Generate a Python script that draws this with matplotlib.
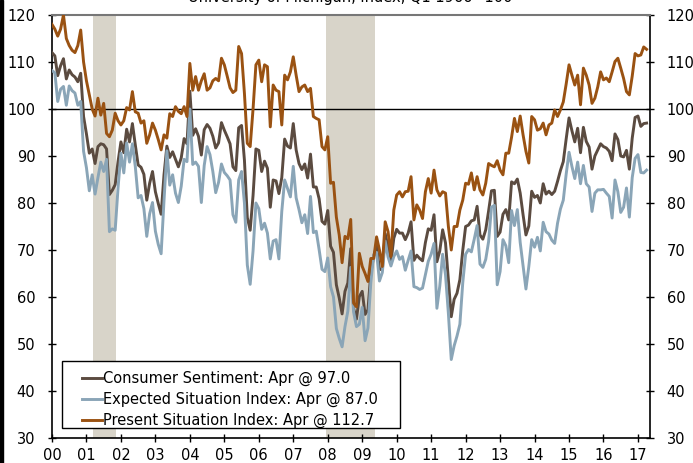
import numpy as np
import matplotlib
matplotlib.use("Agg")
from matplotlib import pyplot as plt
from matplotlib.patches import Rectangle

# University of Michigan consumer sentiment, monthly Jan 2000 - Apr 2017
sentiment = [
    112.0, 111.3, 107.1, 109.2, 110.7, 106.4, 108.3, 107.3, 106.8, 105.8, 107.6, 98.4,
    94.7, 90.6, 91.5, 88.4, 92.0, 92.6, 92.4, 91.5, 81.8, 82.7, 83.9, 88.8,
    93.0, 90.7, 95.7, 93.0, 96.9, 92.4, 88.1, 87.6, 86.1, 80.6, 84.2, 86.7,
    82.4, 79.9, 77.6, 86.0, 92.1, 89.7, 90.9, 89.3, 87.7, 89.6, 93.7, 92.6,
    103.8, 94.4, 95.8, 94.2, 90.2, 95.6, 96.7, 95.9, 94.2, 91.7, 92.8, 97.1,
    95.5, 94.1, 92.6, 87.7, 86.9, 96.0, 96.5, 89.1, 76.9, 74.2, 81.6, 91.5,
    91.2, 86.7, 88.9, 87.4, 79.1, 84.9, 84.7, 82.0, 85.4, 93.6, 92.1, 91.7,
    96.9, 91.3, 88.4, 87.1, 88.3, 85.3, 90.4, 83.4, 83.4, 80.9, 76.1, 75.5,
    78.4, 70.8, 69.5, 62.6, 59.8, 56.4, 61.2, 63.0, 70.3, 57.6, 55.3, 60.1,
    61.2, 56.3, 57.3, 65.1, 68.7, 70.8, 66.0, 65.7, 73.5, 70.6, 67.4, 72.5,
    74.4, 73.6, 73.6, 72.2, 73.6, 76.0, 67.8, 68.9, 68.2, 67.7, 71.6, 74.5,
    74.2, 77.5, 67.5, 69.8, 74.3, 71.5, 63.7, 55.8, 59.5, 60.8, 63.7, 69.9,
    75.0, 75.3, 76.2, 76.4, 79.3, 73.2, 72.3, 74.3, 78.3, 82.6, 82.7, 72.9,
    73.8, 77.6, 78.6, 76.4, 84.5, 84.1, 85.1, 82.1, 77.5, 73.2, 75.1, 82.5,
    81.2, 81.6, 80.0, 84.1, 81.9, 82.5, 81.8, 82.5, 84.6, 86.9, 88.8, 93.6,
    98.1, 95.4, 93.0, 95.9, 90.7, 96.1, 93.1, 91.9, 87.2, 90.0, 91.3, 92.6,
    92.0, 91.7, 91.0, 89.0, 94.7, 93.5, 90.0, 89.8, 91.2, 87.2, 93.8, 98.2,
    98.5, 96.3, 96.9, 97.0,
]

expected = [
    108.2, 107.7, 101.6, 104.2, 104.8, 100.8, 104.9, 103.9, 103.4, 100.8, 101.6, 91.0,
    87.5, 82.6, 86.0, 81.9, 85.4, 88.7, 86.7, 89.3, 73.9, 74.5, 74.2, 83.2,
    90.6, 86.4, 92.8, 88.7, 92.6, 87.8, 81.1, 81.6, 78.8, 72.9, 77.7, 80.1,
    74.0, 71.2, 69.2, 80.5, 91.1, 83.8, 86.0, 82.1, 80.1, 83.6, 89.3, 88.8,
    100.0, 88.2, 88.7, 87.8, 80.1, 88.0, 92.0, 90.3, 86.7, 82.2, 84.4, 88.3,
    86.5, 85.8, 84.9, 77.5, 75.9, 84.9, 86.7, 80.0, 66.8, 62.7, 69.8, 80.0,
    78.8, 74.4, 75.7, 73.6, 68.1, 71.9, 72.2, 68.1, 78.2, 84.9, 83.1, 81.3,
    87.8, 81.1, 78.6, 75.8, 77.5, 73.5, 81.4, 73.7, 74.0, 70.1, 65.9, 65.4,
    68.3, 62.2, 60.0, 53.3, 51.2, 49.4, 53.7, 57.0, 66.3, 56.8, 53.7, 54.2,
    57.8, 50.7, 53.4, 63.1, 69.0, 69.5, 63.4, 65.2, 71.9, 68.5, 66.6, 68.6,
    69.8, 68.0, 68.6, 65.7, 67.8, 69.8, 62.2, 62.0, 61.6, 61.9, 64.7, 67.6,
    69.1, 71.4, 57.6, 62.3, 69.1, 64.7, 56.5, 46.7, 49.6, 51.7, 54.2, 63.0,
    69.1, 70.1, 69.6, 72.3, 75.2, 67.0, 66.3, 68.0, 71.8, 79.1, 79.5, 62.6,
    65.4, 72.2, 70.9, 67.3, 78.4, 75.2, 78.6, 71.6, 66.6, 61.7, 66.5, 72.2,
    70.6, 72.7, 69.8, 75.9, 73.9, 73.4, 72.1, 71.4, 75.7, 78.7, 80.6, 86.1,
    90.8, 87.8, 85.2, 88.7, 84.1, 88.0, 84.1, 83.4, 78.2, 82.1, 82.8, 82.8,
    82.9, 82.1, 81.4, 76.8, 84.9, 82.4, 78.0, 79.1, 83.2, 77.0, 85.4, 89.5,
    90.3, 86.5, 86.4, 87.0,
]

present = [
    118.0, 117.0, 115.5, 117.0, 120.0, 115.0, 113.5, 112.5, 112.0, 113.5, 116.8, 110.0,
    106.0, 103.0, 100.0, 98.5, 102.3, 98.7, 101.2, 94.8, 94.1, 95.5, 99.1, 97.5,
    96.6, 97.5, 100.3, 99.8, 103.7, 99.4, 99.1, 97.0, 97.5, 92.7, 94.5, 97.0,
    95.5, 93.5, 91.3, 94.5, 93.8, 99.0, 98.4, 100.5, 99.5, 99.0, 100.5, 98.4,
    109.7, 104.0, 106.9, 104.0, 106.0, 107.5, 104.0, 104.5, 106.0, 106.5, 106.0, 110.8,
    109.4, 107.0, 104.5, 103.5, 104.0, 113.3, 111.8, 103.3, 92.7, 92.0, 100.0, 109.4,
    110.4, 105.8, 109.4, 109.0, 96.2, 105.1, 104.0, 103.7, 96.6, 107.2, 106.2, 107.9,
    111.1, 107.2, 103.7, 104.7, 105.1, 103.7, 104.4, 98.4, 98.0, 97.7, 92.0, 91.3,
    94.1, 84.2, 84.4, 77.0, 73.2, 67.3, 72.9, 72.4, 76.5, 58.7, 57.9, 69.3,
    66.5, 65.0, 63.3, 68.2, 68.2, 72.8, 70.0, 66.5, 76.0, 73.9, 68.6, 78.5,
    81.7, 82.4, 81.3, 82.4, 82.5, 85.6, 76.4, 79.6, 78.5, 76.7, 82.4, 85.2,
    82.1, 87.0, 82.8, 81.5, 82.4, 82.1, 75.0, 70.0, 75.0, 75.0, 78.5, 80.6,
    84.2, 84.0, 86.4, 82.8, 85.6, 82.8, 81.7, 84.2, 88.4, 88.0, 87.7, 89.0,
    87.0, 86.0, 90.6, 90.6, 94.0, 98.0, 95.2, 98.5, 94.5, 91.0, 88.5, 98.4,
    97.7, 95.5, 95.8, 97.0, 94.5, 96.6, 97.0, 99.8, 98.4, 99.8, 101.5, 105.3,
    109.4, 107.2, 105.1, 107.2, 100.9, 108.7, 107.2, 105.1, 101.2, 102.3, 104.7, 107.9,
    106.2, 106.6, 105.8, 107.9, 110.1, 110.8, 108.7, 106.5, 103.7, 103.0, 107.0, 111.8,
    111.3, 111.5, 113.2, 112.7,
]

labels = [
    "Consumer Sentiment: Apr @ 97.0",
    "Expected Situation Index: Apr @ 87.0",
    "Present Situation Index: Apr @ 112.7",
]
colors = ["#5b4b40", "#8aa5b7", "#9a5212"]

# recessions (decimal years)
rec_start = [2001.19, 2007.95]
rec_end = [2001.86, 2009.38]

years = list(range(2000, 2018))
year_labels = ["%02d" % (y % 100) for y in years]
yticks = [30, 40, 50, 60, 70, 80, 90, 100, 110, 120]

x = 2000 + np.arange(len(sentiment)) / 12.0

plt.rcParams['font.family'] = ['DejaVu Sans']

fig = plt.figure(figsize=(6.93, 4.63), dpi=100)
ax = fig.add_axes([0.075, 0.054, 0.863, 0.9136])

for s, e in zip(rec_start, rec_end):
    ax.axvspan(s, e, color="#d8d4c9", lw=0, zorder=0)

ax.axhline(100, color="black", lw=1.0, zorder=1)

for ser, lab, col in zip([sentiment, expected, present], labels, colors):
    ax.plot(x, ser, color=col, lw=2.1, label=lab, zorder=3)

ax.set_xlim(2000, 2017.35)
ax.set_ylim(30, 120)
ax.set_xticks(years)
ax.set_xticklabels(year_labels)
ax.set_yticks(yticks)
ax.tick_params(axis="both", direction="inout", length=6, width=1.0,
               labelsize=10.5, colors="black")
ax.tick_params(axis="x", pad=4.5)
ax.tick_params(axis="y", right=True, labelright=True, pad=9)

for side in ["left", "right", "bottom"]:
    ax.spines[side].set_color("black")
    ax.spines[side].set_linewidth(1.2)
ax.spines["top"].set_color("#777777")
ax.spines["top"].set_linewidth(1.5)

# legend box drawn separately so the entries can sit inset like the original
ax.add_patch(Rectangle((0.0167, 0.0236), 0.565, 0.158, transform=ax.transAxes,
                       facecolor="white", edgecolor="black", lw=1.0, zorder=5))
leg = ax.legend(loc="lower left", bbox_to_anchor=(0.050, 0.023),
                borderaxespad=0, fontsize=10.5, frameon=False,
                handlelength=1.4, handletextpad=0.05, labelspacing=0.4,
                borderpad=0)
leg.set_zorder(6)

fig.text(0.505, 1 - 2.0 / 463, "University of Michigan, Index, Q1 1966=100",
         ha="center", va="baseline", fontsize=10.5)

# dark strip on the left edge
fig.patches.append(Rectangle((0, 0), 3 / 693, 1, transform=fig.transFigure,
                             color="black", zorder=10))

fig.savefig("out.png", dpi=100)
